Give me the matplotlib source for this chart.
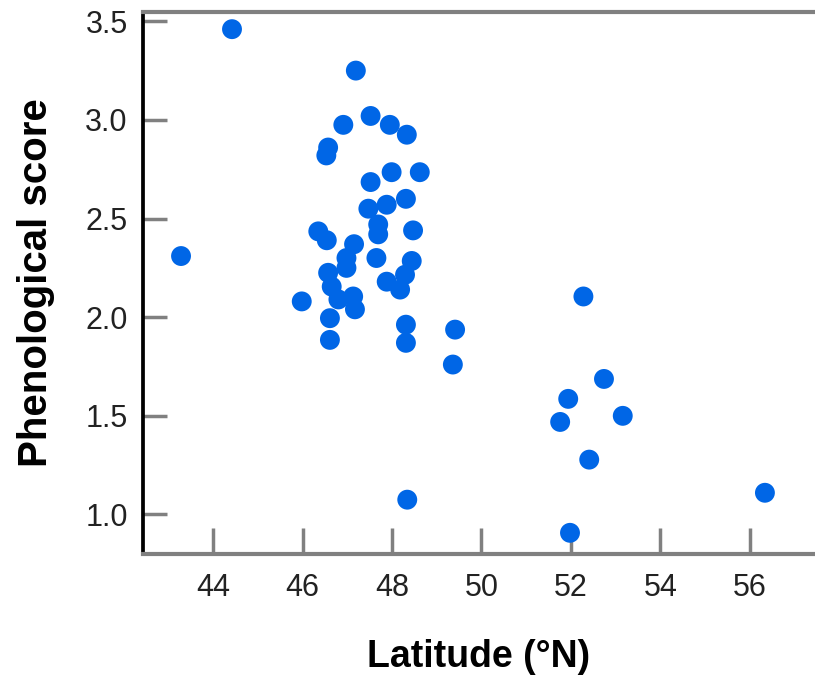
import matplotlib.pyplot as plt

# latitude (deg N) and phenological score
latitude = [44.42, 43.28, 47.19, 47.52, 46.91, 47.95, 48.33, 46.57, 46.53,
            47.52, 47.99, 48.62, 48.31, 47.88, 47.47, 47.69, 47.69, 48.47,
            46.35, 46.54, 47.15, 46.98, 46.98, 47.65, 48.44, 46.57, 46.65,
            46.80, 47.13, 47.17, 45.98, 46.61, 46.61, 47.88, 48.18, 48.29,
            48.31, 48.31, 49.41, 49.36, 48.34, 52.28, 52.74, 51.94, 51.76,
            53.16, 52.41, 56.34, 51.98]
score = [3.46, 2.31, 3.25, 3.02, 2.975, 2.975, 2.925, 2.86, 2.82,
         2.685, 2.735, 2.735, 2.60, 2.57, 2.55, 2.47, 2.42, 2.44,
         2.435, 2.39, 2.37, 2.30, 2.25, 2.30, 2.285, 2.225, 2.155,
         2.09, 2.105, 2.04, 2.08, 1.995, 1.885, 2.18, 2.14, 2.215,
         1.962, 1.87, 1.937, 1.76, 1.075, 2.105, 1.687, 1.586, 1.469,
         1.50, 1.278, 1.11, 0.907]

x_ticks = [44, 46, 48, 50, 52, 54, 56]
y_ticks = [1.0, 1.5, 2.0, 2.5, 3.0, 3.5]

plt.rcParams['font.family'] = ['Liberation Sans', 'DejaVu Sans']

fig = plt.figure(figsize=(8.15, 6.78), dpi=100)
ax = fig.add_axes([0.1755, 0.183, 0.8245, 0.7993])

ax.scatter(latitude, score, s=205, color='#0066E6', edgecolors='none', zorder=3)

ax.set_xlim(42.43, 57.46)
ax.set_ylim(0.80, 3.547)
ax.set_xticks(x_ticks)
ax.set_yticks(y_ticks)
ax.set_yticklabels(['{:.1f}'.format(v) for v in y_ticks])

ax.tick_params(axis='both', direction='in', colors='#808080', width=2.5,
               labelcolor='#222222', labelsize=22)
ax.tick_params(axis='y', length=17, pad=11)
ax.tick_params(axis='x', length=19, pad=14)
for i in (0, len(x_ticks) - 1):
    ax.xaxis.get_major_ticks()[i].tick1line.set_color('black')

ax.spines['left'].set_color('black')
ax.spines['left'].set_linewidth(2.7)
for side in ('top', 'bottom'):
    ax.spines[side].set_color('#808080')
    ax.spines[side].set_linewidth(3)
ax.spines['right'].set_visible(False)

ax.set_xlabel('Latitude (°N)', fontsize=27, fontweight='bold', labelpad=26)
ax.set_ylabel('Phenological score', fontsize=29, fontweight='bold', labelpad=22)

fig.savefig('out.png', dpi=100)
